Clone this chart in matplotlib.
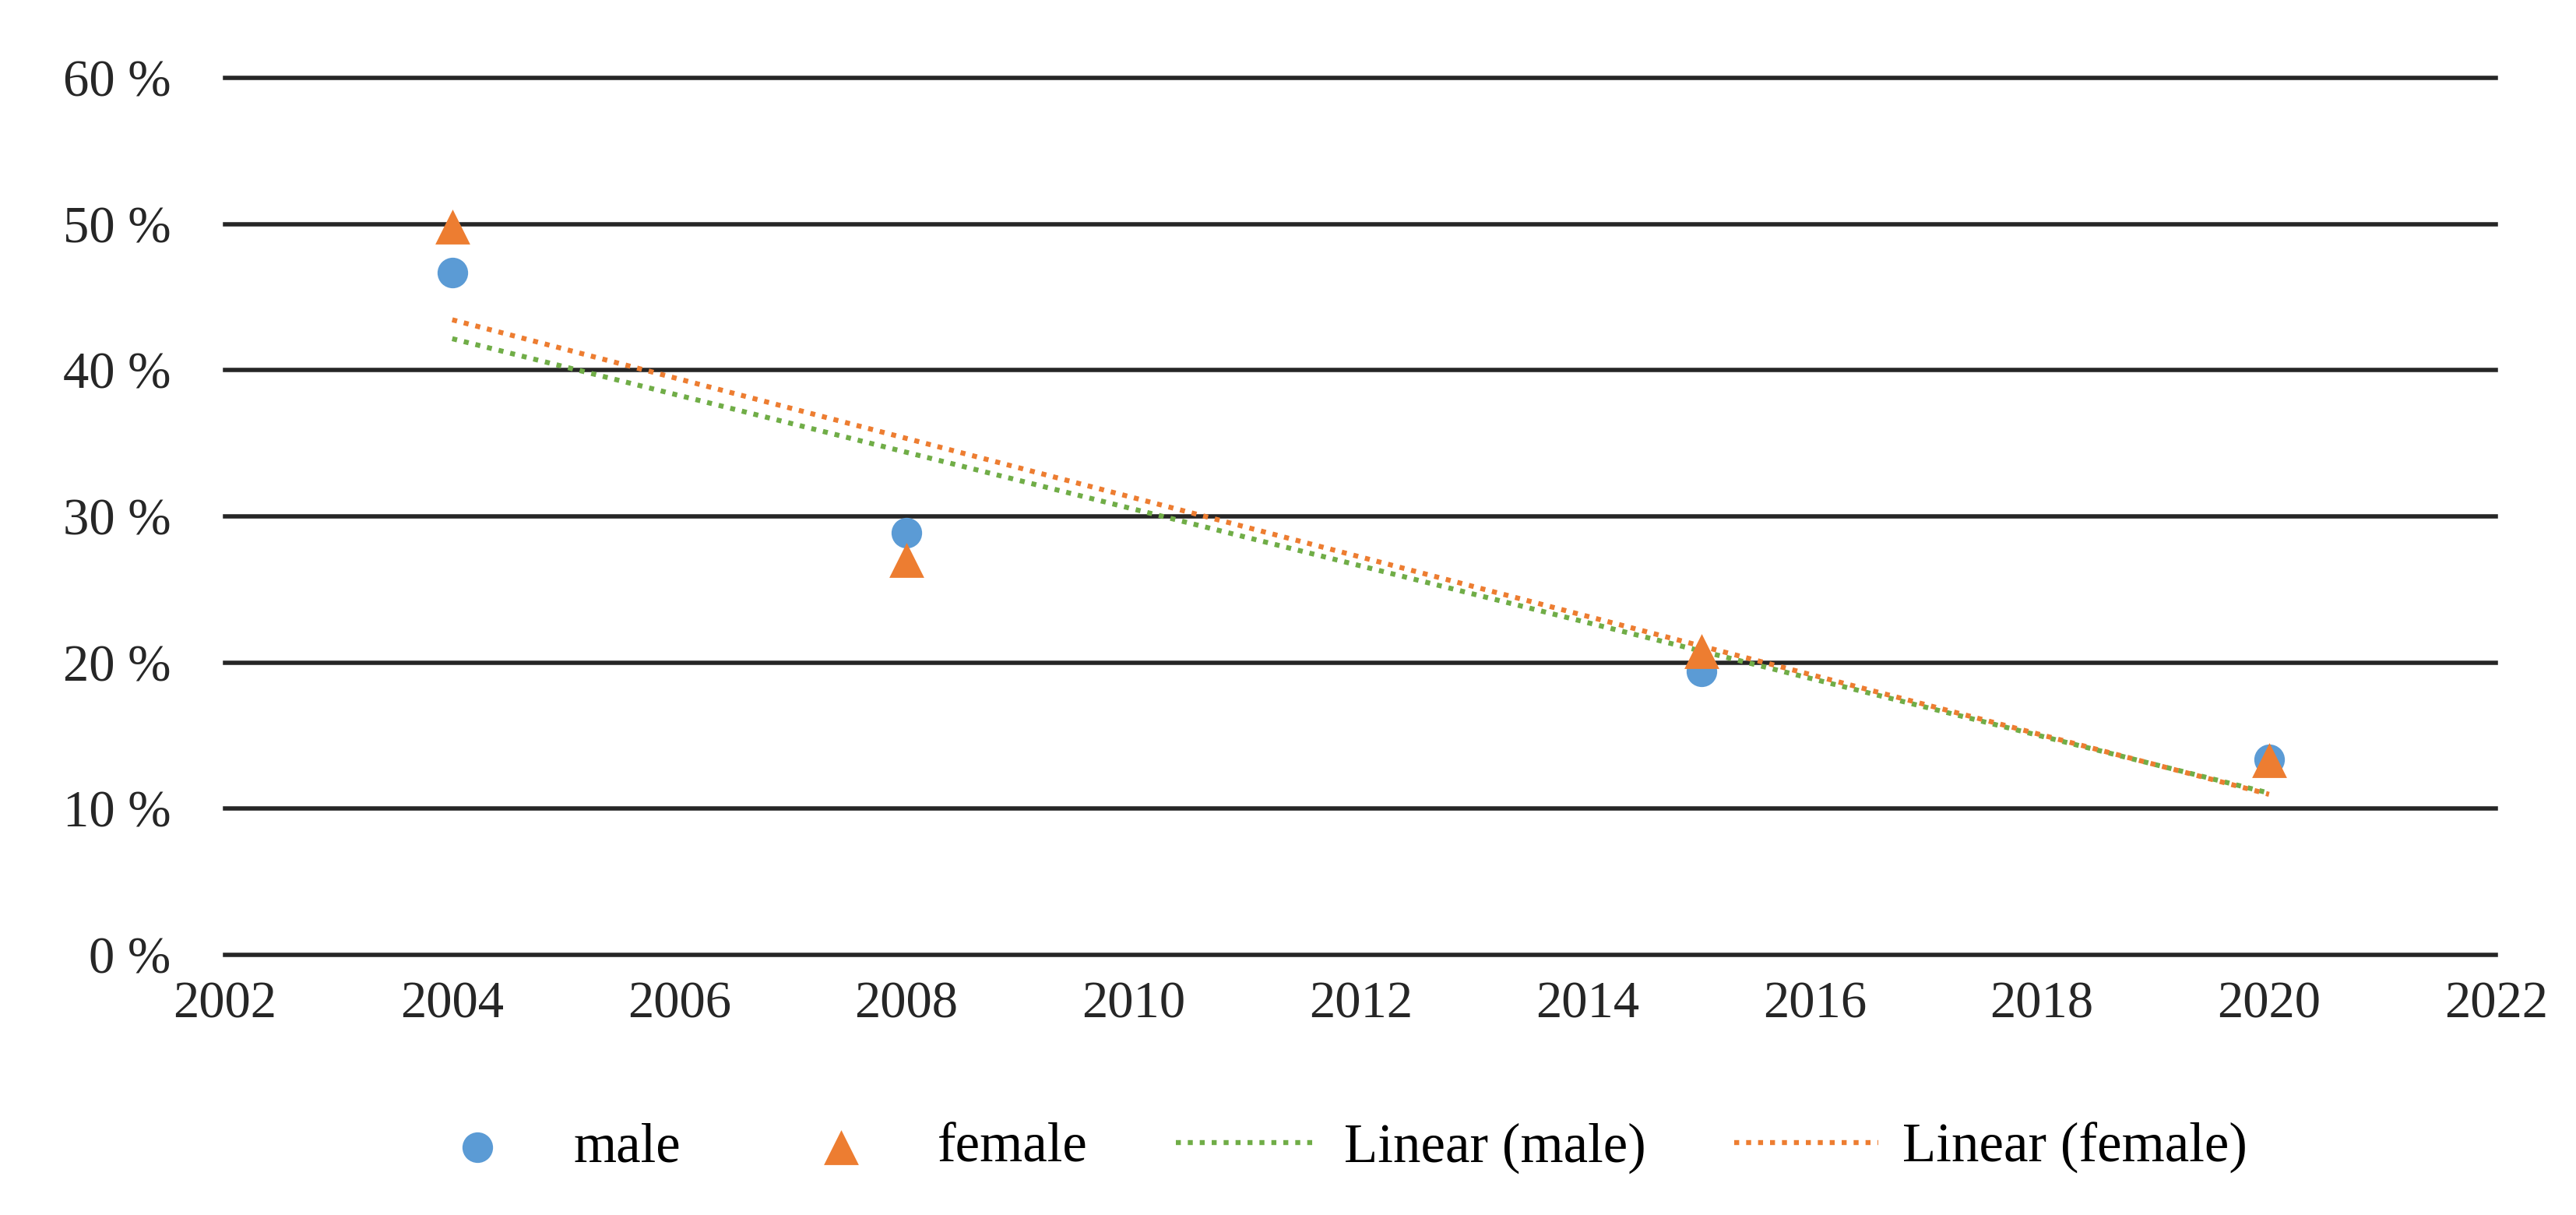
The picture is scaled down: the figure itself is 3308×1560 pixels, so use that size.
import matplotlib
matplotlib.use("Agg")
import matplotlib.pyplot as plt
import numpy as np

# values (percent)
years = [2004, 2008, 2015, 2020]
male = [46.7, 28.9, 19.4, 13.4]
female = [49.8, 27.0, 20.8, 13.3]

blue = "#5B9BD5"
orange = "#ED7D31"
green = "#70AD47"

plt.rcParams['font.family'] = ['Liberation Serif', 'DejaVu Serif']

fig = plt.figure(figsize=(16.54, 7.8), dpi=200)
ax = fig.add_axes([0.0874, 0.214, 0.969 - 0.0874, 0.936 - 0.214])

for v in range(0, 61, 10):
    ax.axhline(v, color="#262626", lw=2.0, zorder=1, clip_on=False)

ax.scatter(years, male, s=200, color=blue, marker="o", zorder=3, label="male", linewidths=0)
ax.scatter(years, female, s=260, color=orange, marker="^", zorder=4, label="female", linewidths=0)

# linear trend lines, like the Excel ones
x = np.array(years, dtype=float)
xs = np.array([years[0], years[-1]], dtype=float)
pm = np.polyfit(x, male, 1)
pf = np.polyfit(x, female, 1)
ax.plot(xs, np.polyval(pm, xs), color=green, lw=2.3, ls=(0, (1, 1.4)), zorder=2, label="Linear (male)")
ax.plot(xs, np.polyval(pf, xs), color=orange, lw=2.3, ls=(0, (1, 1.4)), zorder=2, label="Linear (female)")

ax.set_xlim(2002, 2022)
ax.set_ylim(0, 60)
ax.set_xticks(range(2002, 2023, 2))
ax.set_yticks(range(0, 61, 10))
ax.set_yticklabels([f"{v} %" for v in range(0, 61, 10)])
ax.tick_params(axis="both", length=0, labelsize=24, colors="#262626")
ax.tick_params(axis="y", pad=25)
ax.tick_params(axis="x", pad=12)
for s in ax.spines.values():
    s.set_visible(False)

h, l = ax.get_legend_handles_labels()
fig.legend(h, l, loc="center", ncol=4,
           bbox_to_anchor=(0.515, 0.055), frameon=False, fontsize=25.5,
           handlelength=2.6, columnspacing=1.6, handletextpad=0.45)

fig.savefig("out.png", dpi=200, facecolor="white")
